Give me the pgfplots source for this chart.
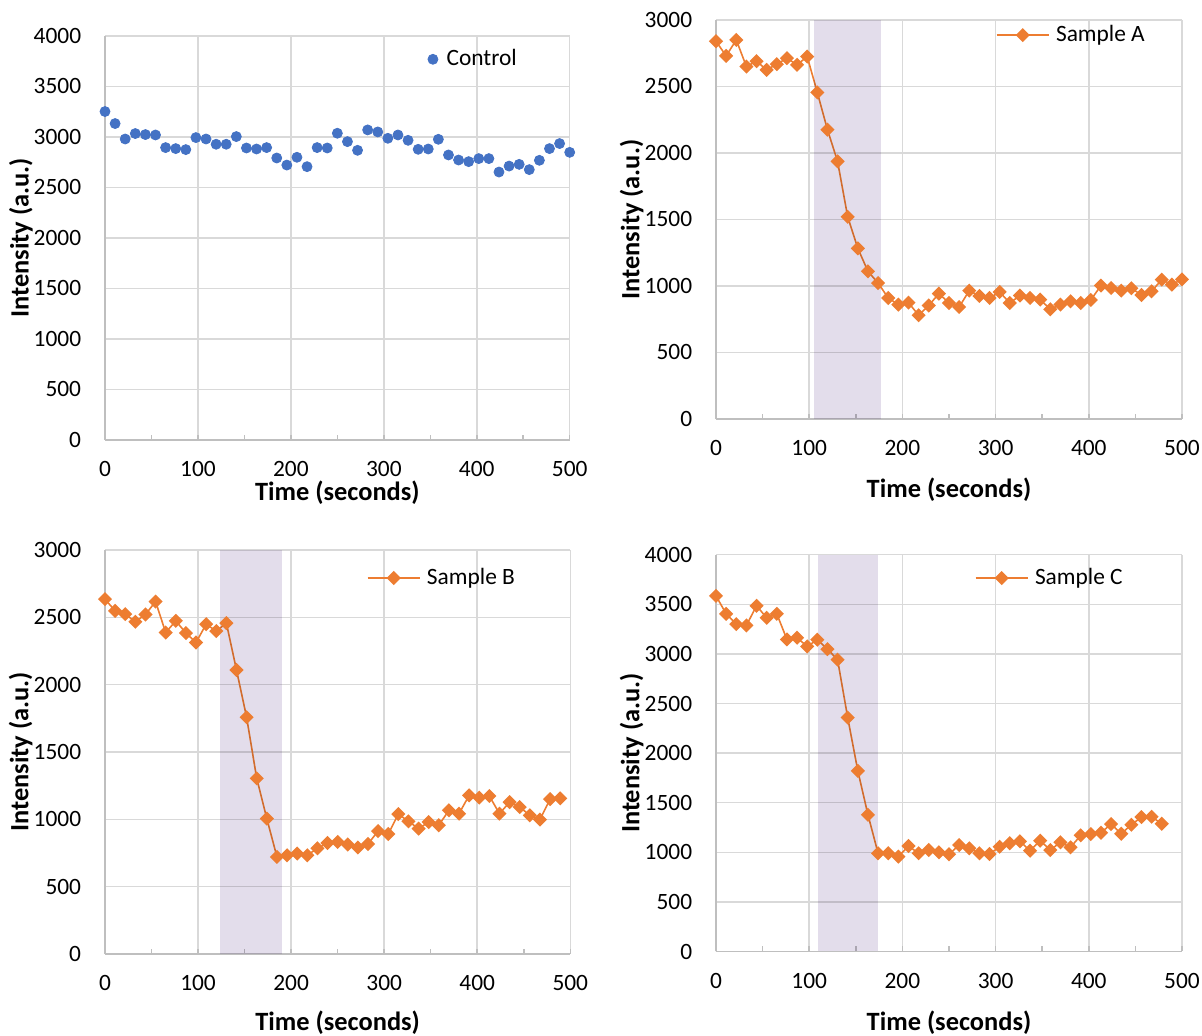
\documentclass[border=0pt]{standalone}
\usepackage{fontspec}
\setmainfont{Carlito}
\usepackage{pgfplots}
\pgfplotsset{compat=1.18}
\definecolor{ctrlblue}{RGB}{68,114,196}
\definecolor{xorange}{RGB}{237,125,49}
\definecolor{gridgray}{RGB}{217,217,217}
\definecolor{axisgray}{RGB}{191,191,191}
\definecolor{shade}{RGB}{227,221,235}
\newcommand{\tickfont}{\fontsize{11.7}{14}\selectfont}
\newcommand{\labelfont}{\fontsize{13.2}{16}\selectfont\bfseries}
\pgfplotsset{
 panel/.style={
  scale only axis,
  anchor=south west,
  xmin=0, xmax=500, ymin=0,
  xtick={0,100,...,500},
  minor x tick num=1,
  axis x line=bottom, axis y line=left,
  axis line style={-, draw=axisgray, line width=0.75pt},
  grid=major,
  major grid style={draw=gridgray, line width=0.75pt},
  tick align=inside,
  major tick length=2.5pt, minor tick length=2.5pt,
  x tick style={draw=axisgray, line width=0.75pt},
  y tick style={draw=none},
  tick label style={font=\tickfont},
  /pgf/number format/assume math mode=true,
  /pgf/number format/1000 sep={},
  yticklabel style={inner xsep=0pt, xshift=-11.75pt},
  xticklabel style={inner ysep=0pt, yshift=-10.5pt},
  xlabel={Time (seconds)},
  ylabel={Intensity (a.u.)},
  label style={font=\labelfont},
  ylabel style={at={(axis description cs:-0.1547,0.5)}, anchor=south, inner sep=0pt},
  legend style={draw=none, fill=none, inner sep=0pt, font=\tickfont, anchor=west, nodes={inner sep=1.25pt}, column sep=2pt},
  legend image code/.code={\draw[mark repeat=2,mark phase=2,##1] plot coordinates {(0pt,0pt) (13pt,0pt) (26pt,0pt)};},
  clip=false,
 },
 orangeline/.style={color=xorange, line width=0.8pt, mark=square*, mark size=2.1pt, mark options={rotate=45, solid}},
 dotlegend/.style={legend image code/.code={\path (-2.5pt,0pt) (2.5pt,0pt); \draw[##1] plot coordinates {(0pt,0pt)};}},
}
\begin{document}
\begin{tikzpicture}
\useasboundingbox (0,0) rectangle (601pt,518pt);

% ---------------- Control ----------------
\begin{axis}[panel, at={(52.5pt,298pt)}, width=232.35pt, height=202pt,
  ymax=4000, ytick={0,500,...,4000},
  xlabel style={at={(axis description cs:0.5,0)}, anchor=north, inner sep=0pt, yshift=-20.5pt},
  legend style={at={(0.6932,0.9423)}, nodes={inner sep=2.1pt}, column sep=2pt},
  dotlegend]
\addplot[only marks, mark=*, mark size=2.5pt, color=ctrlblue] coordinates {
(0,3252) (10.87,3133) (21.74,2980) (32.61,3034) (43.48,3024) (54.35,3020) (65.22,2895) (76.09,2885)
(86.96,2875) (97.83,2994) (108.7,2980) (119.57,2928) (130.43,2928) (141.3,3004) (152.17,2891) (163.04,2881)
(173.91,2895) (184.78,2792) (195.65,2722) (206.52,2799) (217.39,2706) (228.26,2895) (239.13,2891) (250,3037)
(260.87,2954) (271.74,2868) (282.61,3070) (293.48,3050) (304.35,2987) (315.22,3020) (326.09,2967) (336.96,2878)
(347.83,2881) (358.7,2977) (369.57,2822) (380.43,2772) (391.3,2756) (402.17,2786) (413.04,2786) (423.91,2653)
(434.78,2712) (445.65,2729) (456.52,2677) (467.39,2769) (478.26,2885) (489.13,2935) (500,2848)
};
\addlegendentry{Control}
\end{axis}

% ---------------- Sample A ----------------
\begin{axis}[panel, at={(358pt,308.5pt)}, width=233pt, height=199.5pt,
  ymax=3000, ytick={0,500,...,3000},
  xlabel style={at={(axis description cs:0.5,0)}, anchor=north, inner sep=0pt, yshift=-29.5pt},
  legend style={at={(0.5998,0.962)}}]
\addplot[orangeline] coordinates {
(0,2840) (10.87,2730) (21.74,2850) (32.61,2650) (43.48,2690) (54.35,2625) (65.22,2668) (76.09,2713)
(86.96,2663) (97.83,2725) (108.7,2455) (119.57,2175) (130.43,1937) (141.3,1520) (152.17,1283) (163.04,1110)
(173.91,1022) (184.78,910) (195.65,860) (206.52,875) (217.39,780) (228.26,853) (239.13,943) (250,872)
(260.87,842) (271.74,965) (282.61,925) (293.48,910) (304.35,955) (315.22,872) (326.09,928) (336.96,910)
(347.83,898) (358.7,825) (369.57,860) (380.43,885) (391.3,872) (402.17,895) (413.04,1003) (423.91,985)
(434.78,965) (445.65,983) (456.52,932) (467.39,960) (478.26,1048) (489.13,1010) (500,1050)
};
\addlegendentry{Sample A}
\addplot[draw=none, fill=shade, forget plot, blend mode=multiply] coordinates {(105,3000) (177,3000)} \closedcycle;
\end{axis}

% ---------------- Sample B ----------------
\begin{axis}[panel, at={(52.5pt,41pt)}, width=232.65pt, height=202pt,
  ymax=3000, ytick={0,500,...,3000},
  xlabel style={at={(axis description cs:0.5,0)}, anchor=north, inner sep=0pt, yshift=-28.5pt},
  legend style={at={(0.562,0.9307)}}]
\addplot[orangeline] coordinates {
(0,2635) (10.87,2548) (21.74,2524) (32.61,2467) (43.48,2521) (54.35,2617) (65.22,2387) (76.09,2474)
(86.96,2383) (97.83,2313) (108.7,2449) (119.57,2398) (130.43,2457) (141.3,2109) (152.17,1758) (163.04,1304)
(173.91,1005) (184.78,721) (195.65,733) (206.52,746) (217.39,733) (228.26,785) (239.13,824) (250,832)
(260.87,813) (271.74,791) (282.61,817) (293.48,913) (304.35,891) (315.22,1039) (326.09,985) (336.96,931)
(347.83,980) (358.7,956) (369.57,1067) (380.43,1042) (391.3,1178) (402.17,1161) (413.04,1173) (423.91,1042)
(434.78,1128) (445.65,1091) (456.52,1030) (467.39,998) (478.26,1150) (489.13,1156)
};
\addlegendentry{Sample B}
\addplot[draw=none, fill=shade, forget plot, blend mode=multiply] coordinates {(123.5,3000) (189.8,3000)} \closedcycle;
\end{axis}

% ---------------- Sample C ----------------
\begin{axis}[panel, at={(358pt,42.25pt)}, width=233pt, height=198.4pt,
  ymax=4000, ytick={0,500,...,4000},
  xlabel style={at={(axis description cs:0.5,0)}, anchor=north, inner sep=0pt, yshift=-29.75pt},
  legend style={at={(0.5547,0.941)}}]
\addplot[orangeline] coordinates {
(0,3585) (10.87,3404) (21.74,3300) (32.61,3287) (43.48,3485) (54.35,3364) (65.22,3404) (76.09,3146)
(86.96,3163) (97.83,3075) (108.7,3143) (119.57,3048) (130.43,2942) (141.3,2358) (152.17,1821) (163.04,1378)
(173.91,990) (184.78,990) (195.65,956) (206.52,1063) (217.39,990) (228.26,1023) (239.13,1000) (250,980)
(260.87,1073) (271.74,1040) (282.61,990) (293.48,983) (304.35,1056) (315.22,1091) (326.09,1111) (336.96,1016)
(347.83,1117) (358.7,1023) (369.57,1101) (380.43,1050) (391.3,1171) (402.17,1184) (413.04,1197) (423.91,1285)
(434.78,1187) (445.65,1278) (456.52,1355) (467.39,1358) (478.26,1288)
};
\addlegendentry{Sample C}
\addplot[draw=none, fill=shade, forget plot, blend mode=multiply] coordinates {(109.4,4000) (173.8,4000)} \closedcycle;
\end{axis}
\end{tikzpicture}
\end{document}
